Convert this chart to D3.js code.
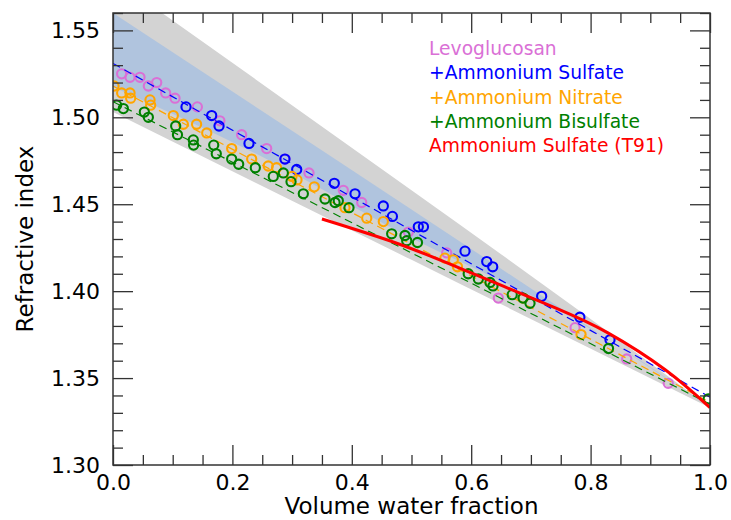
<!DOCTYPE html>
<html>
<head>
<meta charset="utf-8">
<script src="https://cdn.jsdelivr.net/npm/d3@7"></script>
<style>
body { margin: 0; background: #fff; }
text { font-family: "DejaVu Sans", sans-serif; }
.axis path { display: none; }
.axis line { stroke: #333; stroke-width: 1.3px; }
.axis text { font-size: 22px; fill: #000; }
</style>
</head>
<body>
<div id="chart"></div>
<script>
// levoglucosan (pure)
var levoV = [0.0145,0.0285,0.0452,0.0592,0.0732,0.0882,0.1039,0.1413,0.179,0.2155,0.2574,0.288,0.3283,0.3858,0.4166,0.4947,0.559,0.6454,0.774,0.8605,0.930];
var levoN = [1.525,1.523,1.523,1.518,1.520,1.514,1.511,1.506,1.498,1.490,1.482,1.476,1.468,1.458,1.451,1.434,1.422,1.396,1.379,1.361,1.347];
// + ammonium sulfate
var asV = [0.1223,0.1653,0.1776,0.2278,0.288,0.3077,0.3707,0.4054,0.4528,0.468,0.5114,0.52,0.5896,0.626,0.636,0.718,0.782,0.8325];
var asN = [1.506,1.501,1.495,1.485,1.476,1.470,1.462,1.456,1.449,1.443,1.437,1.437,1.423,1.417,1.414,1.397,1.385,1.372];
// + ammonium nitrate
var anV = [0.0017,0.0145,0.0285,0.0296,0.062,0.0631,0.101,0.1178,0.140,0.157,0.1988,0.2323,0.260,0.274,0.2998,0.3082,0.3372,0.3886,0.425,0.4528,0.556,0.570,0.577,0.687,0.784];
var anN = [1.518,1.514,1.514,1.511,1.510,1.507,1.501,1.496,1.496,1.491,1.482,1.476,1.472,1.471,1.466,1.464,1.460,1.448,1.442,1.440,1.419,1.418,1.414,1.396,1.375];
// + ammonium bisulfate
var abV = [0.0061,0.0173,0.0525,0.0592,0.105,0.108,0.1345,0.135,0.1687,0.173,0.1988,0.2105,0.2384,0.2685,0.2853,0.2982,0.3188,0.3551,0.3719,0.3774,0.3953,0.4668,0.4891,0.492,0.510,0.595,0.612,0.6315,0.6365,0.6687,0.6868,0.6985,0.830,0.997];
var abN = [1.507,1.505,1.503,1.500,1.495,1.490,1.487,1.484,1.484,1.479,1.476,1.473,1.471,1.466,1.468,1.463,1.456,1.453,1.451,1.452,1.448,1.433,1.432,1.429,1.428,1.410,1.407,1.405,1.403,1.398,1.396,1.393,1.367,1.338];

// dashed fits: value at v=0 and v=1
var fitAS = [1.531, 1.339];
var fitAN = [1.518, 1.336];
var fitAB = [1.509, 1.335];

// Tang 1991 ammonium sulfate curve
var t91V = [0.35,0.48,0.60,0.74,0.829,0.925,1.0];
var t91N = [1.4415,1.427,1.4105,1.3905,1.376,1.3548,1.333];

// band edges
var grayHiV = [0,0.5,0.78,1], grayHiN = [1.580,1.458,1.389,1.333];
var grayLoV = [0,0.5,1], grayLoN = [1.503,1.418,1.333];
var blueHiV = [0,0.5,1], blueHiN = [1.560,1.447,1.333];
var blueLoV = [0,0.24,0.48,0.7655,1], blueLoN = [1.5175,1.479,1.434,1.3854,1.333];

var xMajor = [0,0.2,0.4,0.6,0.8,1.0];
var yMajor = [1.30,1.35,1.40,1.45,1.50,1.55];

var legendItems = ["Levoglucosan","+Ammonium Sulfate","+Ammonium Nitrate","+Ammonium Bisulfate","Ammonium Sulfate (T91)"];
var legendColors = ["orchid","#0000ff","orange","green","#ff0000"];

(function(){
	var W = 731, H = 520;
	var m = {left:113, top:13, right:710, bottom:465};
	var svg = d3.select("#chart").append("svg").attr("width", W).attr("height", H);

	var x = d3.scaleLinear().domain([0,1]).range([m.left, m.right]);
	var y = d3.scaleLinear().domain([1.30,1.56]).range([m.bottom, m.top]);

	svg.append("clipPath").attr("id","clip").append("rect")
		.attr("x", m.left).attr("y", m.top).attr("width", m.right-m.left).attr("height", m.bottom-m.top);
	var g = svg.append("g").attr("clip-path","url(#clip)");

	function pts(vs, ns){ return vs.map(function(v,i){ return [v, ns[i]]; }); }
	var edge = d3.line().x(function(d){return x(d[0]);}).y(function(d){return y(d[1]);}).curve(d3.curveMonotoneX);
	function band(hi, lo){
		var p1 = edge(hi), p2 = edge(lo.slice().reverse());
		return p1 + "L" + p2.slice(1) + "Z";
	}
	g.append("path").attr("d", band(pts(grayHiV,grayHiN), pts(grayLoV,grayLoN))).attr("fill","#d3d3d3");
	g.append("path").attr("d", band(pts(blueHiV,blueHiN), pts(blueLoV,blueLoN))).attr("fill","#b0c4de");

	function series(vs, ns, col, fit){
		g.append("g").selectAll("circle").data(pts(vs,ns)).enter().append("circle")
			.attr("cx", function(d){return x(d[0]);})
			.attr("cy", function(d){return y(d[1]);})
			.attr("r", 4.6)
			.attr("fill","none").attr("stroke", col).attr("stroke-width", 2.1);
		if (fit) {
			g.append("line")
				.attr("x1", x(0)).attr("y1", y(fit[0]))
				.attr("x2", x(1)).attr("y2", y(fit[1]))
				.attr("stroke", col).attr("stroke-width", 1.2).attr("stroke-dasharray","8,5");
		}
	}
	series(levoV, levoN, "orchid", null);
	series(asV, asN, "#0000ff", fitAS);
	series(anV, anN, "orange", fitAN);
	series(abV, abN, "green", fitAB);

	g.append("path").attr("d", d3.line().x(function(d){return x(d[0]);}).y(function(d){return y(d[1]);})
			.curve(d3.curveNatural)(pts(t91V,t91N)))
		.attr("fill","none").attr("stroke","#ff0000").attr("stroke-width",3);

	// axes, ticks pointing inward on every side
	var xMinor = d3.range(0, 1.0001, 0.05).filter(function(v){ return Math.abs(v*5 - Math.round(v*5)) > 1e-6; });
	var yMinor = d3.range(1.30, 1.5601, 0.01).filter(function(v){ return Math.abs(v*20 - Math.round(v*20)) > 1e-6; });
	var fx = d3.format(".1f"), fy = d3.format(".2f");

	svg.append("g").attr("class","axis").attr("transform","translate(0,"+m.bottom+")")
		.call(d3.axisBottom(x).tickValues(xMajor).tickSize(-20).tickPadding(9).tickFormat(fx));
	svg.append("g").attr("class","axis").attr("transform","translate(0,"+m.bottom+")")
		.call(d3.axisBottom(x).tickValues(xMinor).tickSize(-10).tickFormat(""));
	svg.append("g").attr("class","axis").attr("transform","translate(0,"+m.top+")")
		.call(d3.axisTop(x).tickValues(xMajor).tickSize(-20).tickFormat(""));
	svg.append("g").attr("class","axis").attr("transform","translate(0,"+m.top+")")
		.call(d3.axisTop(x).tickValues(xMinor).tickSize(-10).tickFormat(""));
	svg.append("g").attr("class","axis").attr("transform","translate("+m.left+",0)")
		.call(d3.axisLeft(y).tickValues(yMajor).tickSize(-20).tickPadding(13).tickFormat(fy));
	svg.append("g").attr("class","axis").attr("transform","translate("+m.left+",0)")
		.call(d3.axisLeft(y).tickValues(yMinor).tickSize(-10).tickFormat(""));
	svg.append("g").attr("class","axis").attr("transform","translate("+m.right+",0)")
		.call(d3.axisRight(y).tickValues(yMajor).tickSize(-20).tickFormat(""));
	svg.append("g").attr("class","axis").attr("transform","translate("+m.right+",0)")
		.call(d3.axisRight(y).tickValues(yMinor).tickSize(-10).tickFormat(""));

	svg.append("rect").attr("x", m.left).attr("y", m.top)
		.attr("width", m.right-m.left).attr("height", m.bottom-m.top)
		.attr("fill","none").attr("stroke","#333").attr("stroke-width",1.5);

	svg.append("text").attr("x", (m.left+m.right)/2).attr("y", 514)
		.attr("text-anchor","middle").style("font-size","23px").text("Volume water fraction");
	svg.append("text").attr("transform","translate(33,"+((m.top+m.bottom)/2)+") rotate(-90)")
		.attr("text-anchor","middle").style("font-size","23px").text("Refractive index");

	var lg = svg.append("g").attr("transform","translate(429,55)");
	legendItems.forEach(function(t,i){
		lg.append("text").attr("x",0).attr("y", i*24.3)
			.attr("fill", legendColors[i]).style("font-size","18.7px").text(t);
	});
})();
</script>
</body>
</html>
